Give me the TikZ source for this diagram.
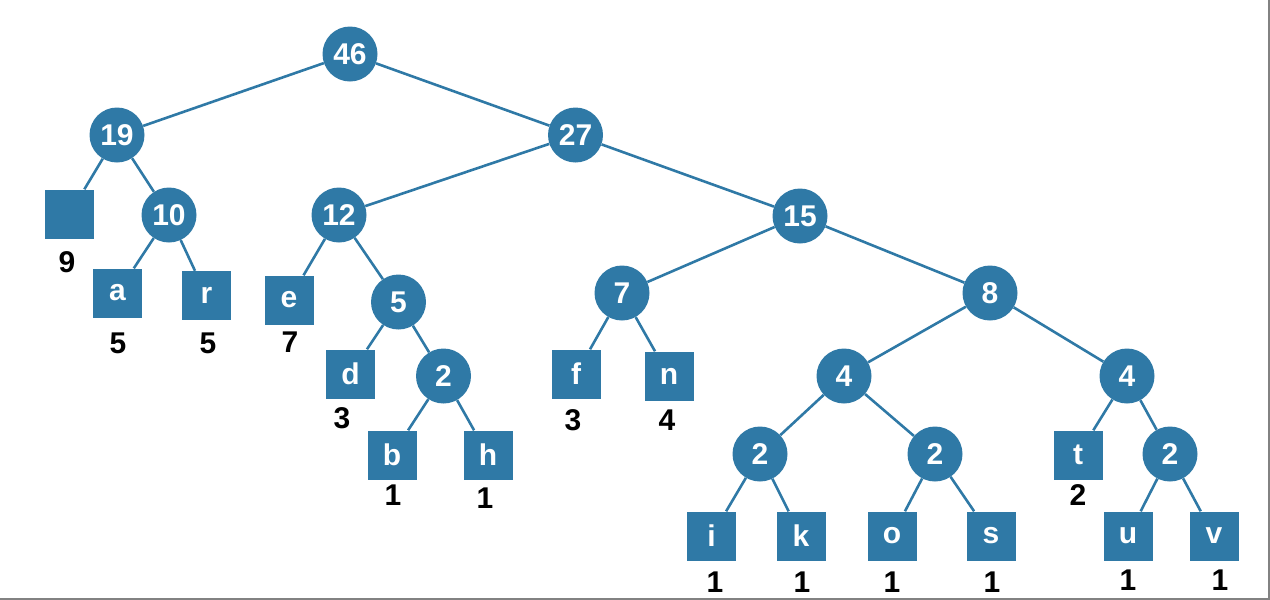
\documentclass[tikz,border=0pt]{standalone}
\usepackage{fontspec}
\setmainfont{Liberation Sans}
\definecolor{treeblue}{RGB}{47,121,166}
\definecolor{framegray}{RGB}{130,130,130}
\begin{document}
\begin{tikzpicture}[x=1pt,y=-1pt,
  inode/.style={circle,fill=treeblue,minimum size=55pt,inner sep=0pt,text=white,font=\fontsize{30}{32}\selectfont\bfseries},
  leaf/.style={rectangle,fill=treeblue,minimum width=49pt,minimum height=49pt,inner sep=0pt,text=white,font=\fontsize{30}{32}\selectfont\bfseries},
  wlabel/.style={inner sep=0pt,text=black,font=\fontsize{30}{32}\selectfont\bfseries},
  edge/.style={draw=treeblue,line width=2.6pt}]
\useasboundingbox (0,0) rectangle (1270,600);
\draw[framegray,line width=2pt] (1268.5,0) -- (1268.5,598.5) -- (0,598.5);
% internal nodes
\node[inode] (n46) at (350,54) {46};
\node[inode] (n19) at (117,135) {19};
\node[inode] (n27) at (575.5,135) {27};
\node[inode] (n10) at (169,215) {10};
\node[inode] (n12) at (339,215) {12};
\node[inode] (n15) at (800,216) {15};
\node[inode] (n5) at (398.5,302) {5};
\node[inode] (n2a) at (443.5,376) {2};
\node[inode] (n7) at (622,293) {7};
\node[inode] (n8) at (990,293) {8};
\node[inode] (n4L) at (844,376) {4};
\node[inode] (n4R) at (1127,376) {4};
\node[inode] (n2b) at (760,454) {2};
\node[inode] (n2c) at (935,454) {2};
\node[inode] (n2d) at (1170,454) {2};
% leaves
\node[leaf] (lsp) at (69.5,214) {};
\node[leaf] (la) at (117.5,293) {a};
\node[leaf] (lr) at (206.5,295.5) {r};
\node[leaf] (le) at (289,300) {e};
\node[leaf] (ld) at (350.5,374) {d};
\node[leaf] (lb) at (392,455) {b};
\node[leaf] (lh) at (488,455) {h};
\node[leaf] (lf) at (576,374) {f};
\node[leaf] (ln) at (669,376) {n};
\node[leaf] (lt) at (1078,455) {t};
\node[leaf] (li) at (711.5,536) {i};
\node[leaf] (lk) at (801,536) {k};
\node[leaf] (lo) at (892,536) {o};
\node[leaf] (ls) at (991,536) {s};
\node[leaf] (lu) at (1128,536) {u};
\node[leaf] (lv) at (1214,536) {v};
% weights
\node[wlabel] (wsp) at (67,262) {9};
\node[wlabel] (wa) at (118,343) {5};
\node[wlabel] (wr) at (208,343) {5};
\node[wlabel] (we) at (290,342) {7};
\node[wlabel] (wd) at (342,418) {3};
\node[wlabel] (wb) at (393,495) {1};
\node[wlabel] (wh) at (485,498) {1};
\node[wlabel] (wf) at (573,420) {3};
\node[wlabel] (wn) at (667,420) {4};
\node[wlabel] (wt) at (1078,495) {2};
\node[wlabel] (wi) at (715,582) {1};
\node[wlabel] (wk) at (802,582) {1};
\node[wlabel] (wo) at (892,582) {1};
\node[wlabel] (ws) at (992,582) {1};
\node[wlabel] (wu) at (1128,580) {1};
\node[wlabel] (wv) at (1220,580) {1};
% edges
\path[edge] (n46) -- (n19);
\path[edge] (n46) -- (n27);
\path[edge] (n19) -- (lsp);
\path[edge] (n19) -- (n10);
\path[edge] (n10) -- (la);
\path[edge] (n10) -- (lr);
\path[edge] (n27) -- (n12);
\path[edge] (n27) -- (n15);
\path[edge] (n12) -- (le);
\path[edge] (n12) -- (n5);
\path[edge] (n5) -- (ld);
\path[edge] (n5) -- (n2a);
\path[edge] (n2a) -- (lb);
\path[edge] (n2a) -- (lh);
\path[edge] (n15) -- (n7);
\path[edge] (n15) -- (n8);
\path[edge] (n7) -- (lf);
\path[edge] (n7) -- (ln);
\path[edge] (n8) -- (n4L);
\path[edge] (n8) -- (n4R);
\path[edge] (n4L) -- (n2b);
\path[edge] (n4L) -- (n2c);
\path[edge] (n2b) -- (li);
\path[edge] (n2b) -- (lk);
\path[edge] (n2c) -- (lo);
\path[edge] (n2c) -- (ls);
\path[edge] (n4R) -- (lt);
\path[edge] (n4R) -- (n2d);
\path[edge] (n2d) -- (lu);
\path[edge] (n2d) -- (lv);
\end{tikzpicture}
\end{document}
